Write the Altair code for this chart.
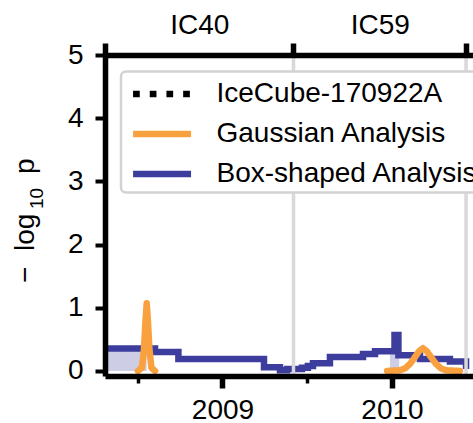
import altair as alt
import pandas as pd

FONT = "Liberation Sans"
BLUE = "#3d3d9e"
ORANGE = "#f9a03f"
SHADE = "#cdcde6"
GRID = "#d9d9d9"

# Legend entries (in order) and their styles
series_names = ["IceCube-170922A", "Gaussian Analysis", "Box-shaped Analysis"]
series_colors = ["black", ORANGE, BLUE]
series_dash = [[6.7, 10], [1, 0], [1, 0]]
series_width = [6.5, 6.5, 5]

# Detector seasons: boundaries (decimal year) and names
season_edges = [2008.307, 2009.419, 2010.437]
season_names = ["IC40", "IC59"]

# Box-shaped analysis, -log10 p (step-after)
box_t = [2008.26, 2008.602, 2008.740, 2009.245, 2009.339, 2009.381, 2009.422,
         2009.469, 2009.504, 2009.534, 2009.634, 2009.829, 2009.900, 2010.015,
         2010.038, 2010.165, 2010.342, 2010.437]
box_p = [0.355, 0.30, 0.19, 0.06, 0.01, 0.03, 0.03,
         0.05, 0.08, 0.12, 0.22, 0.27, 0.31, 0.57,
         0.25, 0.19, 0.15, 0.03]

# Best-fit box time windows (shaded)
win_id = [1, 1, 2, 2, 2, 2]
win_t = [2008.26, 2008.553, 2009.988, 2010.015, 2010.038, 2010.043]
win_p = [0.355, 0.355, 0.31, 0.57, 0.25, 0.25]

# Gaussian analysis, -log10 p, one curve per season
g40_t = [2008.501, 2008.525, 2008.537, 2008.546, 2008.553, 2008.560, 2008.569,
         2008.581, 2008.602]
g40_p = [0.0, 0.05, 0.35, 0.80, 1.07, 0.80, 0.35, 0.05, 0.0]
g59_t = [2009.971, 2010.047, 2010.077, 2010.106, 2010.136, 2010.159, 2010.183,
         2010.206, 2010.230, 2010.260, 2010.289, 2010.319, 2010.401]
g59_p = [0.0, 0.01, 0.04, 0.11, 0.22, 0.31, 0.36, 0.31, 0.22, 0.11, 0.04, 0.01, 0.0]

# Neutrino alert time
event_t = [2017.724]

x_domain = [2008.307, 2010.478]
y_domain = [-0.08, 5]

box_df = pd.DataFrame({"t": box_t, "p": box_p, "series": series_names[2]})
win_df = pd.DataFrame({"t": win_t, "p": win_p, "win": win_id})
gauss_df = pd.concat([
    pd.DataFrame({"t": g40_t, "p": g40_p, "seg": "IC40"}),
    pd.DataFrame({"t": g59_t, "p": g59_p, "seg": "IC59"}),
])
gauss_df["series"] = series_names[1]
event_df = pd.DataFrame({"t": event_t, "series": [series_names[0]]})
edge_df = pd.DataFrame({"t": season_edges})

season_mids = [round((a + b) / 2, 4) for a, b in zip(season_edges[:-1], season_edges[1:])]
top_label_expr = " : ".join(
    f"abs(datum.value - {m}) < 0.0005 ? '{n}'" for m, n in zip(season_mids, season_names)
) + " : ''"
edge_test = " || ".join(f"abs(datum.value - {b}) < 0.0005" for b in season_edges)

xscale = alt.Scale(domain=x_domain, nice=False, zero=False)
yscale = alt.Scale(domain=y_domain, nice=False, zero=False)

text_common = dict(labelFont=FONT, labelFontSize=28, labelColor="black",
                   domainColor="black", tickColor="black", grid=False, zindex=1)

color = alt.Color("series:N", scale=alt.Scale(domain=series_names, range=series_colors),
                  legend=alt.Legend(title=None))
dash = alt.StrokeDash("series:N", scale=alt.Scale(domain=series_names, range=series_dash),
                      legend=alt.Legend(title=None))
width = alt.StrokeWidth("series:N", scale=alt.Scale(domain=series_names, range=series_width),
                        legend=alt.Legend(title=None))

shade = alt.Chart(win_df).mark_area(interpolate="step-after", color=SHADE, clip=True).encode(
    x=alt.X("t:Q", scale=xscale, axis=None),
    y=alt.Y("p:Q", scale=yscale, axis=None, stack=None),
    detail="win:N",
)

box = alt.Chart(box_df).mark_line(interpolate="step-after", clip=True, strokeJoin="miter").encode(
    x=alt.X("t:Q", scale=xscale, axis=alt.Axis(
        orient="bottom", values=[2009, 2010], format="d", title=None,
        tickSize=12, tickWidth=5.5, domainWidth=5.5, labelPadding=8, **text_common)),
    y=alt.Y("p:Q", scale=yscale, axis=alt.Axis(
        orient="left", values=[0, 1, 2, 3, 4, 5], format="d", title=None,
        tickSize=10, tickWidth=4, domainWidth=5.5, labelPadding=12, **text_common)),
    color=color, strokeDash=dash, strokeWidth=width,
)

edges = alt.Chart(edge_df).mark_rule(color=GRID, strokeWidth=3.5, clip=True).encode(
    x=alt.X("t:Q", scale=xscale, axis=alt.Axis(
        orient="top", values=season_edges + season_mids, labelExpr=top_label_expr,
        title=None, tickSize=12, tickWidth=5.5, domainWidth=5.5, labelPadding=4,
        tickOpacity={"condition": {"test": edge_test, "value": 1}, "value": 0},
        **text_common)),
)

gauss = alt.Chart(gauss_df).mark_line(clip=True, strokeJoin="round", strokeCap="round").encode(
    x=alt.X("t:Q", scale=xscale, axis=alt.Axis(
        orient="bottom", values=[2008.5, 2009.5], labels=False, domain=False, title=None,
        tickSize=7, tickWidth=3.5, tickColor="black", grid=False, zindex=1)),
    y=alt.Y("p:Q", scale=yscale, axis=None),
    detail="seg:N",
    color=color, strokeDash=dash, strokeWidth=width,
)

event = alt.Chart(event_df).mark_rule(clip=True).encode(
    x=alt.X("t:Q", scale=xscale, axis=None),
    color=color, strokeDash=dash, strokeWidth=width,
)


# y-axis title "− log10 p" with a true subscript, written bottom-to-top
def title_piece(text, x, y, size):
    return alt.Chart(pd.DataFrame({"s": [text]})).mark_text(
        angle=270, align="left", baseline="alphabetic", font=FONT, fontSize=size,
        color="black",
    ).encode(x=alt.value(x), y=alt.value(y), text="s:N")


y_title = alt.layer(
    title_piece("−", -71, 228, 28),
    title_piece("log", -71, 196, 28),
    title_piece("10", -62, 154, 19),
    title_piece("p", -71, 119, 28),
)

# Legend line sample: a horizontal stroke 2r long (r = sqrt(size)/2), offset to the right
legend_sample = "M-0.72,0H3.28"

chart = alt.layer(shade, box, edges, gauss, event, y_title).resolve_axis(
    x="independent", y="independent"
).properties(
    width=368, height=321,
    padding={"left": 105, "top": 55, "right": 0, "bottom": 47},
    autosize=alt.AutoSizeParams(type="none"),
).configure_view(stroke=None).configure_legend(
    orient="none", legendX=16, legendY=16.5, symbolType=legend_sample, symbolSize=841,
    labelFont=FONT, labelFontSize=28, labelColor="black", labelLimit=800, labelOffset=55,
    padding=4.5, rowPadding=8, fillColor="white", strokeColor="#d3d3d3", strokeWidth=2.5,
    cornerRadius=5, symbolOpacity=1,
)

chart.save("out.html", embed_options={"renderer": "svg", "actions": False})
